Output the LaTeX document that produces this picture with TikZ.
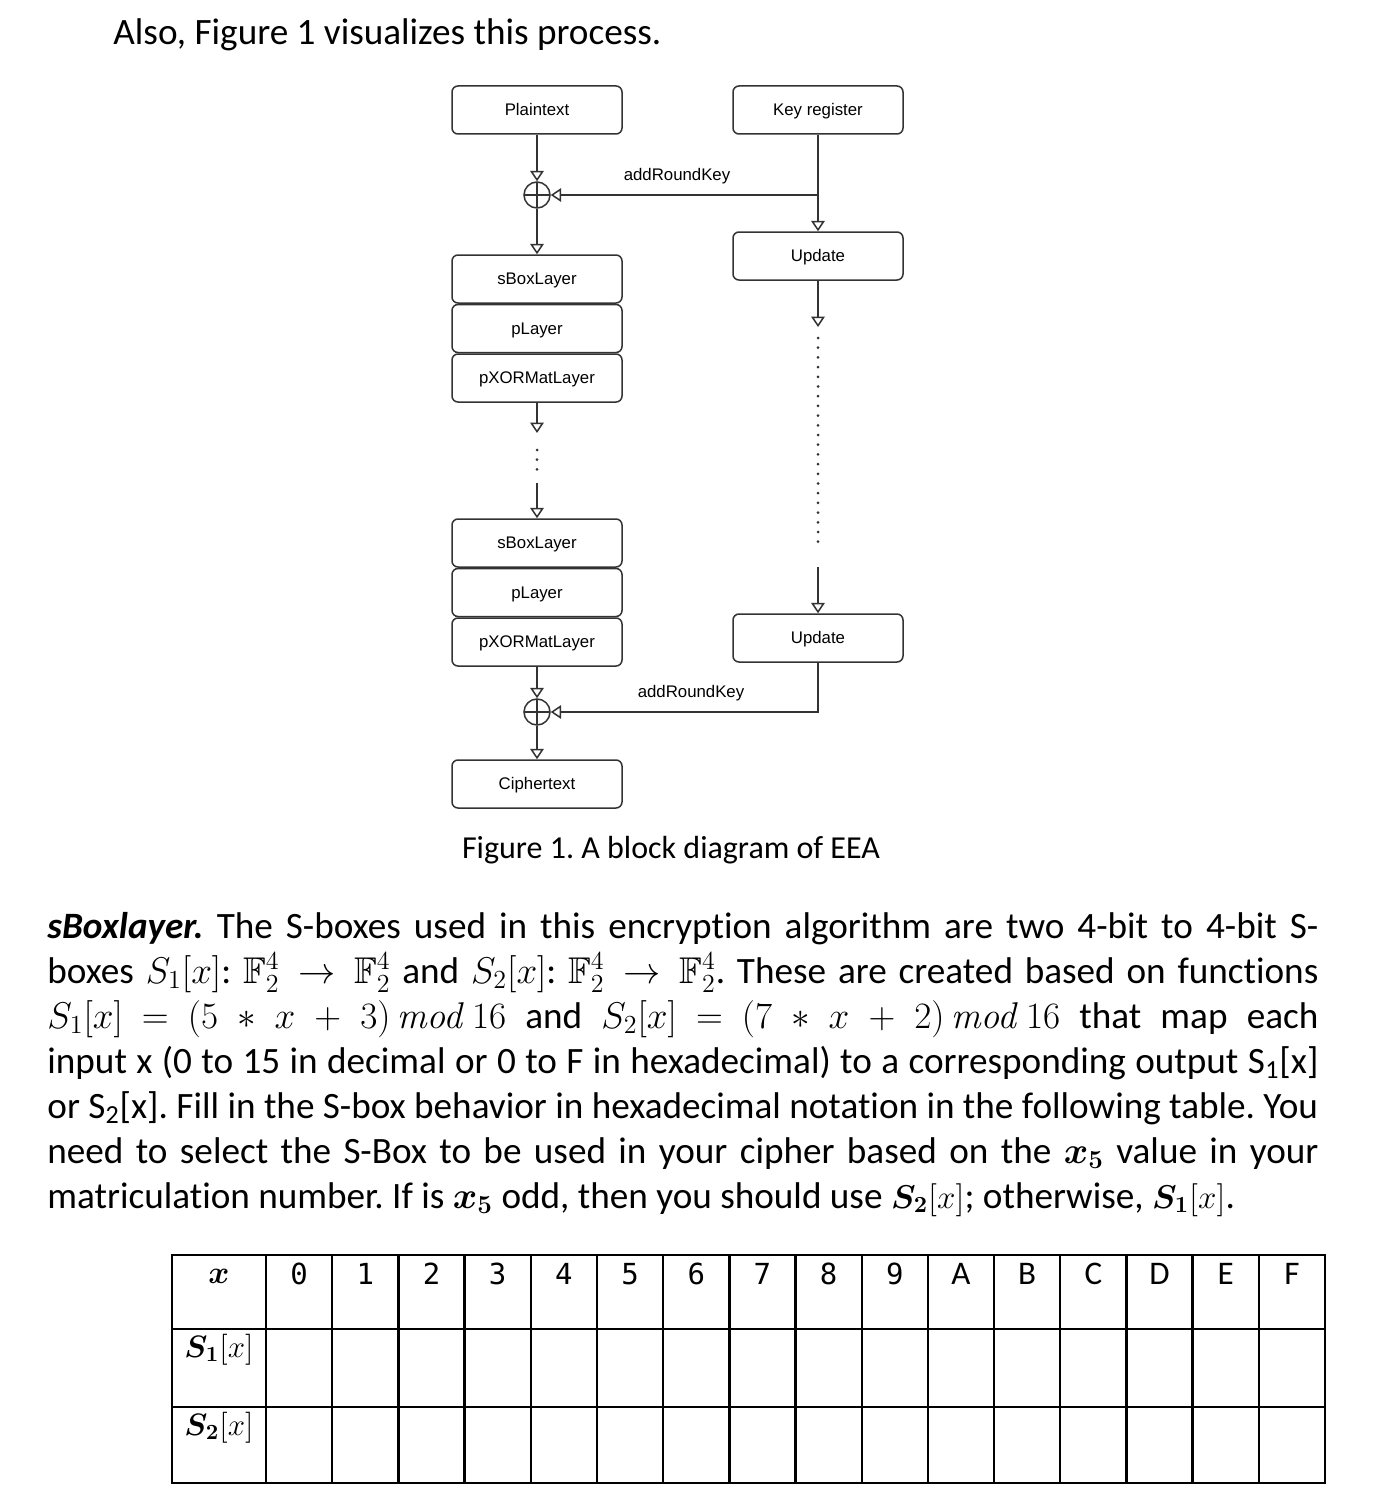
\documentclass[tikz,border=0pt]{standalone}
\usepackage{fix-cm}
\usepackage{amsmath,amssymb}
\usepackage[no-math]{fontspec}
\setmainfont{Carlito}[Ligatures=NoCommon]
\newfontfamily\diagfont{Liberation Sans}
\newfontfamily\tabmono{DejaVu Sans Mono}
\usetikzlibrary{positioning,arrows.meta}
\frenchspacing

\begin{document}
\begin{tikzpicture}[x=0.5pt,y=-0.5pt,
  blk/.style={draw=black!80,line width=0.75pt,rounded corners=3pt,minimum width=85pt,minimum height=24pt,inner sep=0pt,text height=0.72em,text depth=0.16em,font=\diagfont\fontsize{8.4}{10}\selectfont},
  xorop/.style={draw=black!80,line width=0.75pt,circle,minimum size=13pt,inner sep=0pt,
    path picture={\draw[black!80,line width=0.75pt] (path picture bounding box.north)--(path picture bounding box.south) (path picture bounding box.west)--(path picture bounding box.east);}},
  flow/.style={draw=black!80,line width=0.75pt,-{Triangle[open,width=6.8pt,length=5.2pt]}},
  lbl/.style={inner sep=0pt,font=\diagfont\fontsize{8.4}{10}\selectfont},
  txt/.style={inner sep=0pt,anchor=base west,font=\fontsize{18.6}{22.5}\selectfont},
  tabline/.style={line width=1.2pt}]

\fill[white] (0,0) rectangle (1399,1504);
\useasboundingbox (0,0) rectangle (1399,1504);

\def \ParWidth {635.5pt}

\node[txt] (intro) at (113,45) {Also, Figure 1 visualizes this process.};

% colonne des blocs
\node[blk] (plain) at (537,110) {Plaintext};
\node[blk] (key) at (818,110) {Key register};
\node[xorop] (xor1) at (537,195) {};
\node[blk] (upd1) at (818,256) {Update};
\node[blk] (sbox1) at (537,279) {sBoxLayer};
\node[blk, below=0pt of sbox1] (play1) {pLayer};
\node[blk, below=0pt of play1] (pxor1) {pXORMatLayer};

\node[blk] (sbox2) at (537,543) {sBoxLayer};
\node[blk, below=0pt of sbox2] (play2) {pLayer};
\node[blk, below=0pt of play2] (pxor2) {pXORMatLayer};
\node[blk] (upd2) at (818,638) {Update};
\node[xorop] (xor2) at (537,712) {};
\node[blk] (cipher) at (537,784) {Ciphertext};

\node[lbl] (ark1) at (677,176) {addRoundKey};
\node[lbl] (ark2) at (691,693) {addRoundKey};

% liaisons
\draw[flow] (plain) -- (xor1);
\draw[flow] (xor1) -- (sbox1);
\draw[flow] (key) -- (upd1);
\coordinate (br1) at (key.south |- xor1);
\draw[flow] (br1) -- (xor1);

\coordinate (dotL1) at (537,433);
\coordinate (dotL2) at (537,483);
\draw[flow] (pxor1) -- (dotL1);
\foreach \i in {0,1,2}{\fill[black!80] (537,450+9.7*\i) circle (1.5);}
\draw[flow] (dotL2) -- (sbox2);

\coordinate (dotR1) at (818,327);
\coordinate (dotR2) at (818,567);
\draw[flow] (upd1) -- (dotR1);
\foreach \i in {0,...,21}{\fill[black!80] (818,338+9.7*\i) circle (1.5);}
\draw[flow] (dotR2) -- (upd2);

\draw[flow] (pxor2) -- (xor2);
\draw[flow] (xor2) -- (cipher);
\draw[flow] (upd2.south) |- (xor2.east);

\node[txt, anchor=base, font=\fontsize{16}{20}\selectfont] (caption) at (671,858) {Figure 1. A block diagram of EEA};

% paragraphe
\node[txt] (par1) at (47,938) {\makebox[\ParWidth][s]{\textbf{\textit{sBoxlayer.}} The S-boxes used in this encryption algorithm are two 4-bit to 4-bit S-}};
\node[txt] (par2) at (47,983) {\makebox[\ParWidth][s]{boxes $S_1[x]$: $\mathbb{F}_2^4 \rightarrow \mathbb{F}_2^4$ and $S_2[x]$: $\mathbb{F}_2^4 \rightarrow \mathbb{F}_2^4$. These are created based on functions}};
\node[txt] (par3) at (47,1028) {\makebox[\ParWidth][s]{$S_1[x]$ $=$ $(5 \ast x$ $+$ $3)\,\mathit{mod}\,16$ and $S_2[x]$ $=$ $(7 \ast x$ $+$ $2)\,\mathit{mod}\,16$ that map each}};
\node[txt] (par4) at (47,1073) {\makebox[\ParWidth][s]{input x (0 to 15 in decimal or 0 to F in hexadecimal) to a corresponding output S\textsubscript{1}[x]}};
\node[txt] (par5) at (47,1118) {\makebox[\ParWidth][s]{or S\textsubscript{2}[x]. Fill in the S-box behavior in hexadecimal notation in the following table. You}};
\node[txt] (par6) at (47,1163) {\makebox[\ParWidth][s]{need to select the S-Box to be used in your cipher based on the $\boldsymbol{x_5}$ value in your}};
\node[txt] (par7) at (47,1208) {matriculation number. If is $\boldsymbol{x_5}$ odd, then you should use {\fontsize{16.5}{20}\selectfont$\boldsymbol{S_2}[x]$}; otherwise, {\fontsize{16.5}{20}\selectfont$\boldsymbol{S_1}[x]$}.};

% tableau
\draw[tabline] (172,1255) rectangle (1325,1483);
\foreach \y in {1329,1407}{\draw[tabline] (172,\y) -- (1325,\y);}
\draw[tabline] (266,1255) -- (266,1483);
\foreach \i in {1,...,15}{\draw[tabline] (266+66.19*\i,1255) -- (266+66.19*\i,1483);}

\node[txt, anchor=base, font=\fontsize{16}{20}\selectfont] (hx) at (219,1283) {$\boldsymbol{x}$};
\node[txt, anchor=base, font=\fontsize{15.5}{20}\selectfont] (hs1) at (219,1357) {$\boldsymbol{S_1}[x]$};
\node[txt, anchor=base, font=\fontsize{15.5}{20}\selectfont] (hs2) at (219,1435) {$\boldsymbol{S_2}[x]$};
\foreach \h in {0,...,9}{
  \node[inner sep=0pt, anchor=base, font=\tabmono\fontsize{14.5}{16}\selectfont] (h\h) at (266+66.19*\h+33.1,1284) {\h};
}
\foreach \h [count=\i from 10] in {A,B,C,D,E,F}{
  \node[inner sep=0pt, anchor=base, font=\fontsize{16.5}{18}\selectfont] (h\h) at (266+66.19*\i+33.1,1284) {\h};
}

\end{tikzpicture}
\end{document}
